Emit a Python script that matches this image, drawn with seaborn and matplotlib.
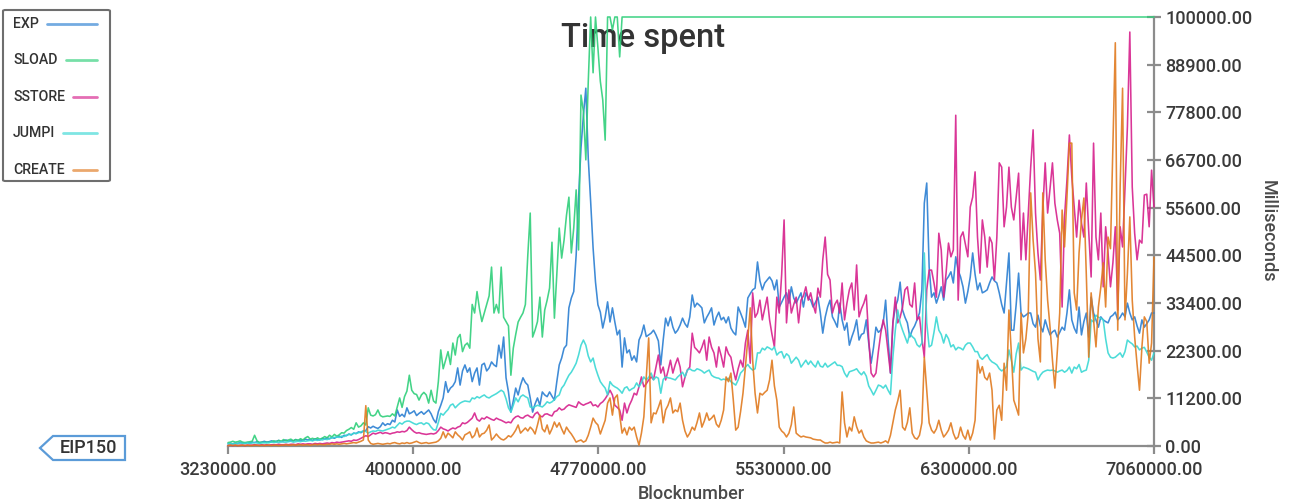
import numpy as np
import pandas as pd
import matplotlib
matplotlib.use("Agg")
import matplotlib.pyplot as plt
from matplotlib.lines import Line2D
from matplotlib.patches import FancyBboxPatch, Polygon
from matplotlib import font_manager
import seaborn as sns

# Block range sampled every 10k blocks
BLOCK_START = 3230000
BLOCK_STEP = 10000

x_tick_labels = ["3230000.00", "4000000.00", "4770000.00", "5530000.00",
                 "6300000.00", "7060000.00"]
y_tick_labels = ["0.00", "11200.00", "22300.00", "33400.00", "44500.00",
                 "55600.00", "66700.00", "77800.00", "88900.00", "100000.00"]

series_names = ["EXP", "SLOAD", "SSTORE", "JUMPI", "CREATE"]
series_colors = ["#2a7ed2", "#2fcf7a", "#d6208c", "#3ad8d4", "#e07a1f"]

# Time spent per opcode, in thousands of milliseconds
exp_k = [
    0.5, 0.6, 0.5, 0.7, 0.6, 0.8, 0.7, 0.6, 0.8, 0.7,
    0.9, 0.8, 1.0, 0.8, 0.9, 1.1, 0.9, 1.0, 1.2, 1.0,
    1.1, 1.3, 1.0, 1.2, 1.4, 1.1, 1.3, 1.2, 1.5, 1.3,
    1.4, 1.2, 1.6, 1.4, 1.5, 1.3, 1.7, 1.5, 1.4, 1.8,
    1.6, 1.9, 1.7, 2.0, 1.8, 2.1, 2.3, 2.0, 2.5, 2.4,
    2.8, 2.6, 3.0, 2.9, 3.3, 3.1, 3.5, 3.6, 4.5, 4.2,
    4.6, 4.3, 4.1, 4.5, 5.4, 4.8, 5.2, 5.0, 6.0, 5.6,
    8.4, 6.9, 7.4, 6.8, 8.9, 7.5, 7.8, 8.2, 7.1, 7.6,
    8.0, 7.4, 7.9, 8.4, 7.5, 6.2, 5.4, 8.0, 9.5, 11.2,
    15.0, 12.5, 13.5, 14.0, 15.0, 18.2, 14.2, 17.5, 18.9, 17.2,
    18.2, 15.0, 17.0, 18.2, 14.2, 18.9, 19.3, 17.5, 18.2, 19.6,
    18.9, 18.5, 23.5, 20.5, 25.4, 15.9, 12.6, 7.9, 10.5, 13.5,
    11.9, 14.2, 15.9, 14.8, 14.2, 11.2, 7.9, 9.8, 11.2, 9.5,
    12.6, 11.9, 11.5, 12.6, 11.6, 10.7, 15.0, 18.9, 20.5, 22.8,
    23.5, 32.2, 34.5, 36.0, 44.5, 57.8, 69.5, 77.1, 83.4, 67.1,
    56.9, 46.2, 38.2, 32.9, 31.2, 27.5, 30.0, 33.6, 28.9, 32.2,
    28.9, 25.9, 27.0, 18.4, 25.2, 21.7, 22.4, 20.0, 21.0, 19.6,
    24.7, 26.0, 28.2, 25.5, 25.9, 26.3, 27.0, 25.9, 24.5, 18.9,
    24.7, 29.8, 28.0, 30.1, 27.7, 26.3, 27.0, 28.2, 29.8, 28.5,
    27.7, 30.1, 35.2, 32.4, 33.3, 32.8, 32.2, 28.7, 30.0, 31.0,
    32.2, 28.2, 30.0, 31.2, 29.4, 30.0, 28.7, 30.1, 27.5, 26.5,
    25.9, 32.4, 31.0, 29.5, 27.7, 34.5, 35.5, 36.4, 36.8, 42.9,
    38.5, 36.4, 38.0, 38.7, 39.4, 38.5, 36.4, 38.7, 32.4, 33.5,
    34.7, 35.7, 33.3, 37.1, 34.5, 33.3, 34.5, 35.7, 32.4, 35.7,
    34.5, 34.0, 32.4, 33.5, 34.7, 31.0, 26.3, 30.0, 32.4, 34.0,
    30.1, 29.0, 27.7, 33.3, 29.4, 27.0, 28.7, 23.5, 25.4, 27.0,
    29.4, 24.7, 26.0, 26.3, 29.4, 24.0, 19.3, 23.0, 27.7, 26.5,
    27.0, 28.7, 34.0, 25.0, 17.0, 28.7, 32.4, 34.0, 38.2, 31.7,
    30.0, 28.7, 25.4, 27.0, 28.0, 29.4, 31.0, 36.4, 56.6, 61.3,
    41.7, 34.7, 35.7, 33.3, 35.0, 37.1, 34.0, 38.7, 39.5, 40.6,
    38.0, 44.1, 41.0, 39.4, 37.1, 33.3, 36.0, 39.4, 45.0, 40.0,
    36.4, 38.0, 35.7, 36.0, 36.4, 38.0, 39.4, 38.5, 38.0, 35.7,
    33.0, 31.0, 38.0, 45.0, 27.0, 27.0, 33.0, 40.3, 31.0, 30.1,
    30.5, 31.0, 31.0, 28.5, 27.7, 30.5, 28.0, 26.6, 29.4, 27.5,
    25.9, 26.6, 27.0, 25.4, 26.5, 27.7, 27.0, 31.0, 36.4, 29.4,
    27.5, 26.3, 32.4, 25.9, 29.0, 31.0, 25.4, 34.7, 31.0, 29.4,
    27.7, 30.1, 29.4, 29.0, 28.7, 30.1, 30.5, 31.2, 29.4, 30.0,
    31.0, 30.1, 33.3, 31.0, 29.4, 30.1, 28.0, 26.3, 29.4, 27.7,
    28.5, 29.4, 31.0, 31.0,
]

sload_k = [
    0.8, 0.9, 1.1, 0.9, 1.0, 1.2, 0.9, 0.8, 0.9, 1.0,
    1.1, 2.5, 1.2, 0.8, 0.9, 0.8, 0.9, 0.8, 1.0, 1.2,
    1.0, 1.3, 1.1, 1.5, 1.2, 1.4, 1.6, 1.2, 1.5, 1.3,
    1.7, 1.4, 1.9, 2.2, 1.6, 1.8, 1.5, 1.9, 1.6, 1.8,
    2.2, 1.9, 2.5, 2.1, 2.7, 2.3, 2.6, 3.1, 3.0, 3.6,
    3.9, 4.3, 3.9, 5.4, 4.4, 4.7, 5.4, 4.9, 8.9, 7.2,
    7.0, 7.3, 8.4, 7.1, 6.8, 6.9, 7.0, 6.9, 7.5, 7.0,
    9.1, 11.2, 9.0, 11.5, 12.8, 16.5, 13.0, 12.2, 12.0, 10.7,
    11.9, 12.5, 11.9, 10.0, 13.0, 10.5, 10.0, 15.0, 22.4, 18.0,
    20.0, 22.0, 19.0, 24.0, 21.2, 25.2, 26.0, 22.0, 23.5, 24.0,
    22.8, 33.0, 31.0, 36.0, 32.0, 29.0, 31.0, 33.0, 35.0, 41.7,
    31.0, 33.0, 31.0, 41.7, 30.0, 29.0, 28.0, 16.5, 22.8, 26.0,
    28.9, 30.0, 31.0, 33.0, 44.5, 54.3, 25.4, 27.0, 29.0, 34.7,
    25.4, 31.7, 34.0, 36.8, 47.5, 29.8, 40.0, 50.8, 43.8, 48.0,
    53.8, 58.0, 45.0, 50.8, 59.7, 45.7, 81.8, 78.0, 66.7, 84.8,
    100, 87.0, 100, 92.8, 85.0, 80.7, 71.3, 100, 100, 97.0,
    100, 100, 90.7, 100, 100, 100, 100, 100, 100, 100,
    100, 100, 100, 100, 100, 100, 100, 100, 100, 100,
    100, 100, 100, 100, 100, 100, 100, 100, 100, 100,
    100, 100, 100, 100, 100, 100, 100, 100, 100, 100,
    100, 100, 100, 100, 100, 100, 100, 100, 100, 100,
    100, 100, 100, 100, 100, 100, 100, 100, 100, 100,
    100, 100, 100, 100, 100, 100, 100, 100, 100, 100,
    100, 100, 100, 100, 100, 100, 100, 100, 100, 100,
    100, 100, 100, 100, 100, 100, 100, 100, 100, 100,
    100, 100, 100, 100, 100, 100, 100, 100, 100, 100,
    100, 100, 100, 100, 100, 100, 100, 100, 100, 100,
    100, 100, 100, 100, 100, 100, 100, 100, 100, 100,
    100, 100, 100, 100, 100, 100, 100, 100, 100, 100,
    100, 100, 100, 100, 100, 100, 100, 100, 100, 100,
    100, 100, 100, 100, 100, 100, 100, 100, 100, 100,
    100, 100, 100, 100, 100, 100, 100, 100, 100, 100,
    100, 100, 100, 100, 100, 100, 100, 100, 100, 100,
    100, 100, 100, 100, 100, 100, 100, 100, 100, 100,
    100, 100, 100, 100, 100, 100, 100, 100, 100, 100,
    100, 100, 100, 100, 100, 100, 100, 100, 100, 100,
    100, 100, 100, 100, 100, 100, 100, 100, 100, 100,
    100, 100, 100, 100, 100, 100, 100, 100, 100, 100,
    100, 100, 100, 100,
]

sstore_k = [
    0.1, 0.2, 0.1, 0.2, 0.1, 0.2, 0.2, 0.1, 0.2, 0.2,
    0.2, 0.3, 0.2, 0.2, 0.3, 0.2, 0.3, 0.2, 0.3, 0.3,
    0.3, 0.4, 0.3, 0.3, 0.4, 0.3, 0.4, 0.4, 0.3, 0.5,
    0.4, 0.5, 0.4, 0.5, 0.5, 0.4, 0.6, 0.5, 0.6, 0.5,
    0.6, 0.7, 0.6, 0.8, 0.7, 0.9, 0.8, 0.9, 1.0, 1.1,
    1.2, 1.1, 1.4, 1.3, 1.5, 1.8, 2.1, 2.4, 2.2, 2.6,
    3.0, 2.8, 3.0, 3.2, 2.9, 3.1, 3.0, 2.8, 3.0, 3.1,
    3.3, 3.2, 3.4, 3.3, 3.6, 4.4, 3.8, 3.3, 3.0, 3.1,
    2.9, 2.8, 2.7, 2.8, 2.9, 2.8, 3.0, 3.6, 4.4, 4.0,
    3.8, 3.5, 3.9, 4.2, 4.0, 4.4, 4.6, 5.4, 5.2, 5.5,
    6.0, 6.5, 7.7, 6.2, 5.8, 6.5, 6.3, 6.8, 6.5, 6.2,
    6.0, 6.5, 6.2, 6.0, 5.7, 5.4, 5.6, 5.4, 6.3, 6.8,
    7.0, 6.6, 6.5, 7.0, 7.2, 6.8, 6.6, 7.5, 7.9, 7.0,
    6.8, 7.4, 7.5, 7.2, 7.0, 8.0, 8.2, 8.9, 8.4, 8.6,
    9.2, 9.6, 9.4, 9.2, 9.0, 10.3, 9.8, 9.5, 9.8, 10.0,
    10.3, 9.4, 9.6, 9.1, 9.9, 10.3, 11.0, 11.9, 13.0, 11.9,
    9.5, 9.0, 8.4, 6.0, 10.0, 7.7, 9.5, 10.7, 12.3, 11.9,
    13.8, 16.1, 13.8, 14.5, 15.4, 16.1, 15.5, 18.4, 21.2, 17.0,
    18.4, 15.4, 17.5, 20.0, 17.0, 19.0, 20.5, 18.4, 13.8, 16.0,
    17.7, 18.4, 26.3, 23.0, 22.4, 21.7, 23.0, 24.7, 20.0, 25.4,
    23.0, 21.7, 18.4, 23.1, 21.0, 18.4, 23.1, 21.5, 20.7, 17.7,
    15.4, 18.0, 20.0, 18.4, 24.0, 27.0, 19.3, 35.7, 30.0, 31.0,
    34.0, 29.4, 32.0, 34.7, 29.4, 26.0, 23.1, 34.7, 31.0, 40.0,
    52.7, 28.7, 36.4, 31.0, 33.0, 34.7, 28.7, 34.0, 35.0, 37.1,
    34.0, 35.7, 33.0, 31.0, 36.8, 34.7, 43.4, 48.7, 40.0, 38.7,
    31.0, 33.0, 34.0, 31.0, 38.0, 29.4, 33.3, 36.4, 38.0, 31.7,
    42.2, 30.1, 32.0, 33.3, 35.2, 25.0, 17.0, 16.1, 17.0, 22.0,
    26.3, 29.4, 27.0, 22.0, 17.0, 28.7, 34.7, 28.7, 30.0, 32.4,
    36.4, 37.1, 33.0, 32.4, 38.0, 29.4, 30.1, 25.0, 20.7, 36.4,
    41.0, 41.0, 38.0, 34.7, 49.6, 45.7, 34.7, 40.3, 47.3, 44.1,
    45.7, 77.1, 34.0, 48.7, 49.9, 47.0, 44.1, 55.7, 58.0, 63.9,
    48.7, 40.3, 52.7, 48.7, 41.7, 48.7, 47.3, 38.7, 48.7, 66.0,
    65.0, 51.1, 55.7, 65.0, 55.7, 52.7, 58.0, 63.6, 43.4, 54.3,
    43.4, 54.3, 65.0, 73.7, 54.3, 45.0, 38.7, 55.0, 66.0, 54.3,
    60.0, 66.0, 56.6, 52.7, 49.6, 32.4, 53.4, 62.0, 72.5, 62.7,
    55.7, 48.7, 57.3, 52.0, 48.7, 61.3, 50.0, 39.4, 70.6, 48.7,
    43.4, 54.3, 37.1, 51.1, 45.0, 37.1, 42.7, 51.1, 31.7, 51.1,
    46.4, 60.0, 74.4, 96.5, 60.4, 49.6, 43.4, 48.0, 47.3, 58.5,
    58.7, 51.1, 64.3, 55.7,
]

jumpi_k = [
    0.5, 0.6, 0.5, 0.6, 0.5, 0.7, 0.6, 0.6, 0.7, 0.6,
    0.7, 0.8, 0.7, 0.6, 0.7, 0.8, 0.7, 0.8, 0.9, 0.8,
    0.9, 0.8, 1.0, 0.9, 0.9, 1.0, 1.1, 0.9, 1.0, 1.1,
    1.0, 1.2, 1.1, 1.2, 1.3, 1.2, 1.4, 1.3, 1.5, 1.4,
    1.6, 1.5, 1.7, 1.9, 2.0, 2.1, 2.0, 2.3, 2.2, 2.5,
    2.7, 2.6, 3.0, 2.9, 3.1, 3.3, 3.5, 3.4, 3.0, 3.3,
    3.5, 3.4, 3.7, 3.6, 3.5, 3.7, 3.9, 4.1, 4.4, 4.2,
    4.8, 5.4, 5.1, 5.6, 5.8, 5.8, 5.5, 5.2, 5.0, 5.3,
    5.4, 5.0, 5.4, 5.2, 4.4, 3.8, 3.7, 5.5, 7.6, 7.2,
    7.9, 8.5, 9.5, 9.8, 8.9, 9.5, 10.0, 10.3, 10.5, 10.4,
    10.3, 11.2, 11.0, 11.5, 11.2, 11.6, 11.9, 11.4, 11.2, 11.6,
    11.9, 12.2, 12.6, 13.0, 12.6, 11.0, 8.9, 7.9, 9.5, 11.2,
    10.3, 11.5, 11.9, 11.5, 11.2, 9.1, 8.9, 9.2, 9.5, 9.3,
    9.1, 9.6, 10.3, 10.0, 10.3, 10.8, 11.5, 11.9, 13.5, 14.2,
    15.4, 16.5, 17.2, 18.2, 19.3, 21.2, 23.5, 24.7, 23.5, 21.0,
    19.6, 20.5, 18.2, 16.5, 15.0, 14.2, 13.5, 11.9, 15.0, 14.2,
    13.8, 13.5, 13.0, 12.3, 13.5, 13.8, 12.9, 13.3, 13.6, 14.7,
    13.8, 14.8, 16.1, 15.4, 16.0, 17.0, 15.4, 16.1, 15.8, 12.3,
    15.5, 16.1, 15.9, 15.8, 15.6, 15.4, 16.1, 16.6, 17.2, 16.1,
    17.7, 18.0, 17.6, 17.5, 18.0, 17.8, 17.5, 17.0, 17.4, 17.7,
    16.5, 16.1, 15.9, 15.8, 15.4, 15.6, 15.4, 15.8, 15.0, 14.6,
    14.2, 15.4, 17.0, 17.6, 18.4, 19.0, 18.2, 17.7, 18.0, 21.7,
    21.7, 22.8, 22.4, 23.1, 22.8, 22.4, 23.1, 21.2, 21.8, 22.0,
    20.5, 21.5, 21.0, 19.3, 20.0, 20.7, 20.0, 18.4, 19.2, 20.0,
    19.0, 19.8, 19.0, 18.4, 19.8, 18.6, 18.4, 19.3, 18.4, 18.8,
    19.2, 19.6, 18.8, 18.8, 18.5, 17.0, 16.1, 17.3, 17.5, 17.7,
    18.0, 17.2, 16.6, 17.3, 16.3, 14.0, 13.0, 11.9, 13.0, 14.2,
    14.0, 13.5, 14.2, 13.0, 12.0, 20.7, 27.0, 31.7, 28.7, 27.0,
    25.5, 24.0, 26.3, 25.5, 25.0, 23.6, 23.1, 24.0, 45.0, 28.7,
    23.1, 23.5, 26.5, 30.1, 27.0, 26.0, 24.0, 26.0, 25.0, 23.1,
    23.6, 22.4, 23.0, 22.8, 22.4, 23.5, 24.0, 24.0, 23.1, 22.0,
    22.0, 20.7, 20.2, 20.8, 21.3, 20.2, 19.6, 19.3, 18.9, 18.0,
    17.5, 17.9, 18.5, 22.4, 20.0, 17.2, 21.5, 24.0, 17.7, 18.4,
    18.2, 18.0, 17.7, 17.4, 17.2, 15.4, 16.5, 17.2, 17.5, 17.7,
    17.6, 17.7, 17.5, 17.2, 17.5, 17.7, 17.2, 17.6, 18.4, 17.0,
    18.4, 18.0, 19.0, 17.2, 17.5, 17.7, 20.0, 29.4, 28.9, 30.5,
    30.0, 29.8, 29.4, 25.0, 21.7, 20.7, 20.5, 20.7, 21.2, 21.7,
    20.7, 22.0, 24.7, 24.2, 23.8, 23.1, 23.3, 22.4, 22.8, 23.0,
    21.9, 20.7, 20.0, 21.7,
]

create_k = [
    0.1, 0.2, 0.1, 0.2, 0.1, 0.1, 0.2, 0.1, 0.2, 0.1,
    0.1, 0.2, 0.2, 0.1, 0.2, 0.1, 0.2, 0.2, 0.1, 0.2,
    0.2, 0.1, 0.2, 0.2, 0.3, 0.2, 0.2, 0.3, 0.2, 0.3,
    0.3, 0.2, 0.3, 0.3, 0.2, 0.3, 0.4, 0.3, 0.4, 0.3,
    0.3, 0.4, 0.4, 0.5, 0.4, 0.5, 0.4, 0.5, 0.6, 0.5,
    0.6, 0.7, 0.8, 0.7, 0.9, 1.1, 1.4, 9.4, 1.4, 0.6,
    0.4, 0.5, 0.6, 0.5, 0.4, 0.5, 0.6, 0.5, 0.7, 0.8,
    0.6, 0.5, 0.7, 0.6, 0.8, 0.6, 0.7, 0.9, 1.1, 0.8,
    0.6, 0.7, 0.8, 0.6, 0.7, 0.8, 0.9, 1.2, 1.8, 3.3,
    1.9, 3.0, 2.5, 1.9, 3.3, 2.6, 2.1, 1.4, 2.6, 2.9,
    3.3, 1.9, 2.5, 4.2, 2.1, 2.8, 3.0, 3.7, 4.9, 1.4,
    2.0, 2.8, 2.1, 1.6, 1.4, 1.8, 2.4, 2.1, 2.8, 3.7,
    4.9, 3.0, 3.6, 4.2, 3.5, 4.4, 3.8, 2.8, 4.9, 7.2,
    4.0, 3.3, 4.9, 2.8, 4.0, 5.6, 4.4, 5.4, 4.0, 2.8,
    4.4, 3.5, 2.8, 1.9, 0.9, 1.2, 1.4, 0.9, 1.2, 2.5,
    4.4, 6.5, 5.5, 4.9, 2.8, 4.4, 6.0, 10.0, 11.2, 7.2,
    11.2, 11.9, 7.2, 3.0, 4.2, 2.6, 4.4, 3.7, 4.4, 2.1,
    0.2, 3.0, 6.8, 16.1, 25.2, 5.4, 7.7, 7.5, 9.0, 10.7,
    5.4, 8.4, 9.5, 11.2, 7.7, 8.4, 8.0, 10.0, 6.0, 3.5,
    2.1, 3.0, 4.4, 3.7, 5.5, 7.7, 4.4, 5.8, 7.7, 6.0,
    6.5, 7.2, 5.1, 4.4, 6.0, 8.4, 16.1, 15.0, 17.0, 10.7,
    3.7, 4.4, 8.0, 12.3, 18.4, 25.0, 32.2, 20.0, 12.3, 7.7,
    12.3, 11.9, 12.5, 13.0, 15.4, 20.0, 14.0, 10.7, 4.4, 3.5,
    3.0, 2.1, 3.0, 5.0, 9.1, 3.0, 2.5, 2.1, 2.3, 2.1,
    2.0, 1.9, 1.6, 1.5, 1.4, 1.4, 1.0, 0.7, 0.7, 0.9,
    0.7, 0.8, 0.9, 0.7, 12.6, 5.4, 2.1, 4.4, 3.5, 6.8,
    4.5, 3.0, 3.7, 2.1, 1.2, 0.9, 0.7, 0.7, 0.8, 0.9,
    0.7, 0.9, 1.2, 0.7, 2.5, 5.4, 8.4, 10.5, 13.0, 4.4,
    3.7, 5.5, 8.9, 3.0, 1.9, 1.6, 2.5, 5.4, 20.7, 13.0,
    5.4, 3.7, 3.0, 4.0, 6.0, 3.7, 2.1, 2.8, 3.7, 5.4,
    3.0, 1.6, 2.1, 4.4, 2.5, 1.6, 3.7, 1.4, 3.0, 6.0,
    20.0, 17.0, 18.5, 16.0, 15.4, 17.0, 13.0, 1.6, 8.4, 9.5,
    6.0, 19.3, 13.0, 31.7, 21.7, 10.7, 9.0, 7.2, 31.0, 21.7,
    25.0, 31.0, 59.0, 48.0, 40.3, 25.0, 19.6, 59.0, 43.4, 34.0,
    27.7, 20.0, 13.5, 22.0, 31.0, 55.0, 46.4, 58.0, 70.6, 70.6,
    35.7, 31.7, 45.0, 52.7, 57.8, 40.0, 20.7, 35.7, 29.4, 23.1,
    32.4, 37.0, 42.7, 32.4, 48.7, 46.0, 70.0, 94.0, 27.0, 60.4,
    83.4, 29.4, 40.3, 53.4, 34.0, 25.4, 19.0, 13.0, 23.1, 30.1,
    29.0, 19.3, 24.0, 44.0,
]

series_values_k = [exp_k, sload_k, sstore_k, jumpi_k, create_k]
n_points = len(exp_k)
assert all(len(s) == n_points for s in series_values_k), [len(s) for s in series_values_k]

blocks = BLOCK_START + BLOCK_STEP * np.arange(n_points)

frames = []
for name, vals in zip(series_names, series_values_k):
    frames.append(pd.DataFrame({
        "block": blocks,
        "ms": np.asarray(vals, dtype=float) * 1000.0,
        "series": name,
    }))
df = pd.concat(frames, ignore_index=True)

# ---- styling -------------------------------------------------------------
sns.set_theme(style="white")
plt.rcParams["font.family"] = ["Roboto", "DejaVu Sans"]

# Pick a medium weight when the Roboto family ships one
available_weights = {f.weight for f in font_manager.fontManager.ttflist
                     if f.name == "Roboto"}
LABEL_WEIGHT = "medium" if any(w in (500, "medium") for w in available_weights) else "normal"

W, H = 1292, 503
fig = plt.figure(figsize=(W / 100, H / 100), dpi=100)
fig.patch.set_facecolor("white")


def fx(x):
    return x / W


def fy(y):
    return 1 - y / H


ax = fig.add_axes([fx(228), fy(446), (1154 - 228) / W, (446 - 17) / H])

palette = dict(zip(series_names, series_colors))
sns.lineplot(
    data=df, x="block", y="ms", hue="series", hue_order=series_names,
    palette=palette, estimator=None, errorbar=None, sort=False,
    legend=False, linewidth=1.15, alpha=0.9, ax=ax,
)
for line in ax.lines:
    line.set_clip_on(False)
    line.set_zorder(3)

x_min, x_max = BLOCK_START, BLOCK_START + BLOCK_STEP * (n_points - 1)
ax.set_xlim(x_min, x_max)
ax.set_ylim(0, 100000)

ax.set_xticks(np.linspace(x_min, x_max, len(x_tick_labels)))
ax.set_xticklabels(x_tick_labels, fontweight=LABEL_WEIGHT)
ax.set_yticks(np.linspace(0, 100000, len(y_tick_labels)))
ax.set_yticklabels(y_tick_labels, fontweight=LABEL_WEIGHT)
ax.yaxis.tick_right()
ax.yaxis.set_label_position("right")

axis_grey = "#8c8c8c"
text_grey = "#3a3a3a"
for side in ("left", "top"):
    ax.spines[side].set_visible(False)
for side in ("bottom", "right"):
    ax.spines[side].set_visible(True)
    ax.spines[side].set_color(axis_grey)
    ax.spines[side].set_linewidth(1.6)

ax.tick_params(axis="x", direction="out", length=6, width=1.6, color=axis_grey,
               labelsize=13, labelcolor=text_grey, pad=5, bottom=True)
ax.tick_params(axis="y", direction="inout", length=10, width=1.6, color=axis_grey,
               labelsize=13, labelcolor=text_grey, pad=3, right=True, left=False)

ax.set_xlabel("Blocknumber", fontsize=13, color="#4a4a4a", labelpad=4,
              fontweight=LABEL_WEIGHT)
ax.set_ylabel("Milliseconds", fontsize=13, color="#4a4a4a", rotation=270,
              labelpad=18, fontweight=LABEL_WEIGHT)

# Title sits underneath the data lines
ax.text(fx(643), fy(38), "Time spent", transform=fig.transFigure,
        ha="center", va="center", fontsize=23.5, fontweight="medium",
        color="#333333", zorder=1)

# ---- legend box on the left ----------------------------------------------
box = FancyBboxPatch((fx(3), fy(181)), (110 - 3) / W, (181 - 10) / H,
                     boxstyle="round,pad=0,rounding_size=0.002",
                     transform=fig.transFigure, facecolor="white",
                     edgecolor="#6e6e6e", linewidth=1.5)
fig.add_artist(box)

legend_rows_y = [24, 60, 97, 133, 170]
legend_texts = []
for name, y in zip(series_names, legend_rows_y):
    t = fig.text(fx(13), fy(y), name, ha="left", va="center", fontsize=10.2,
                 fontweight=LABEL_WEIGHT, color="#333333")
    legend_texts.append(t)

fig.canvas.draw()
renderer = fig.canvas.get_renderer()
for t, color, y in zip(legend_texts, series_colors, legend_rows_y):
    x_end_text = t.get_window_extent(renderer).x1
    fig.add_artist(Line2D([fx(x_end_text + 8), fx(97)], [fy(y), fy(y)],
                          transform=fig.transFigure, color=color,
                          linewidth=2.0, alpha=0.65))

# ---- EIP150 marker (left of the visible block range) ----------------------
tag_pts = [(40, 448), (53, 436), (125, 436), (125, 460), (53, 460)]
tag = Polygon([(fx(x), fy(y)) for x, y in tag_pts], closed=True,
              transform=fig.transFigure, facecolor="white",
              edgecolor="#5b9bd8", linewidth=1.6)
fig.add_artist(tag)
fig.text(fx(88), fy(448), "EIP150", ha="center", va="center", fontsize=13,
         fontweight=LABEL_WEIGHT, color="#333333")

fig.savefig("out.png", dpi=100)
